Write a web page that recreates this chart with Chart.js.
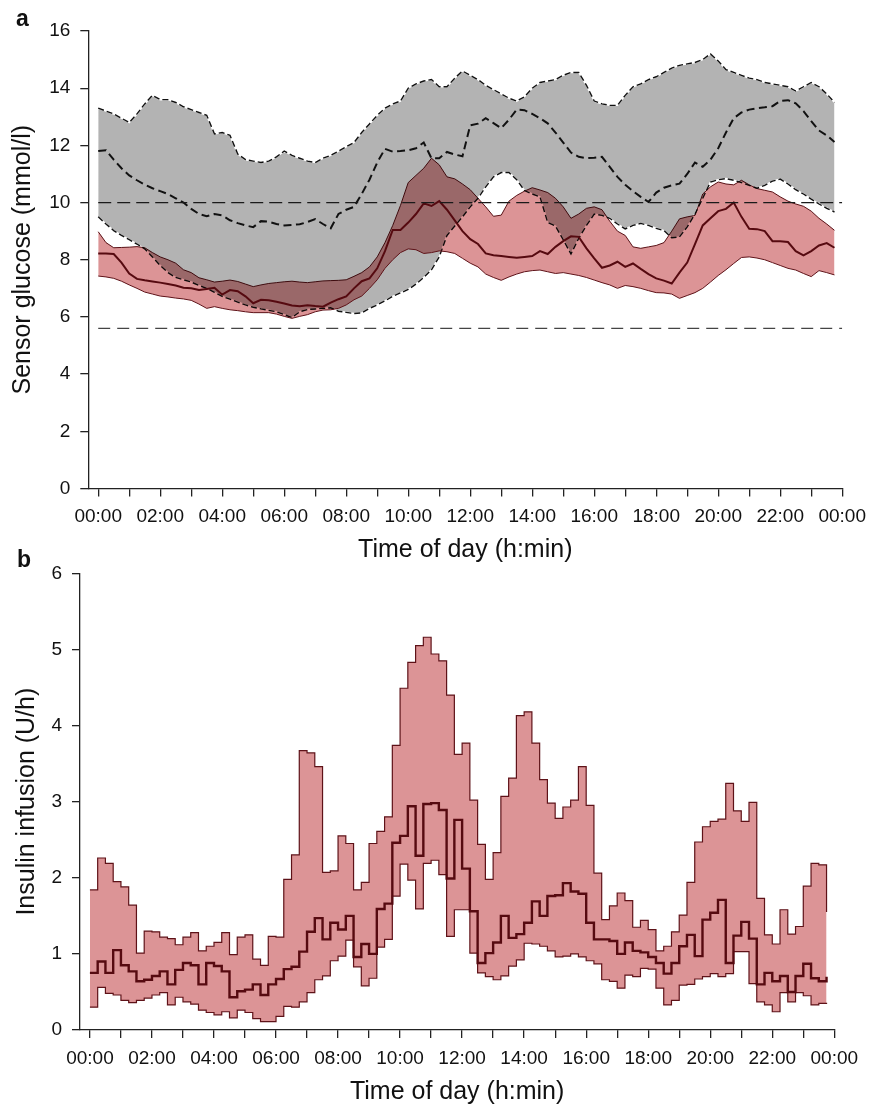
<!DOCTYPE html>
<html>
<head>
<meta charset="utf-8">
<title>Sensor glucose and insulin infusion</title>
<script src="https://cdn.jsdelivr.net/npm/chart.js@4.4.1/dist/chart.umd.min.js"></script>
<style>
  html, body { margin: 0; padding: 0; background: #fff; }
  #page { position: relative; width: 875px; height: 1107px; overflow: hidden; font-family: "Liberation Sans", Arial, sans-serif; }
  .wrap { position: absolute; left: 0; width: 875px; }
  #wrap-a { top: 0; height: 565px; }
  #wrap-b { top: 545px; height: 562px; }
  .panel-label { position: absolute; font-weight: bold; font-size: 23px; line-height: 23px; color: #111; z-index: 2; }
</style>
</head>
<body>
<div id="page">
  <div class="wrap" id="wrap-a"><canvas id="chart-a" width="875" height="565" style="width:875px;height:565px"></canvas></div>
  <div class="wrap" id="wrap-b"><canvas id="chart-b" width="875" height="562" style="width:875px;height:562px"></canvas></div>
  <div class="panel-label" style="left:16px;top:7px">a</div>
  <div class="panel-label" style="left:17px;top:548px">b</div>
</div>
<script>
// time of day in hours, one point every 15 min (00:00 ... 23:45)
const times = Array.from({ length: 96 }, (_, i) => i / 4);
const tickHours = Array.from({ length: 25 }, (_, h) => h);
const hourLabels = ['00:00', '02:00', '04:00', '06:00', '08:00', '10:00', '12:00',
  '14:00', '16:00', '18:00', '20:00', '22:00', '00:00'];
const glucoseTicks = [0, 2, 4, 6, 8, 10, 12, 14, 16];
const insulinTicks = [0, 1, 2, 3, 4, 5, 6];
const refLevels = [10, 5.6];
const refSpan = [0, 24];

// panel a - grey band (dashed)
const grayUpper = [
  13.3, 13.2, 13.1, 12.95,  12.8, 13.1, 13.45, 13.75,  13.6, 13.6, 13.5, 13.35,
  13.25, 13.15, 13.05, 12.4,  12.45, 12.35, 11.7, 11.5,  11.45, 11.4, 11.45, 11.6,
  11.8, 11.65, 11.55, 11.45,  11.4, 11.55, 11.65, 11.8,  11.95, 12.1, 12.45, 12.75,
  13.05, 13.3, 13.45, 13.55,  14.0, 14.15, 14.25, 14.3,  14.05, 14.05, 14.35, 14.6,
  14.45, 14.3, 14.1, 13.95,  13.8, 13.65, 13.55, 13.7,  14.0, 14.2, 14.25, 14.3,
  14.45, 14.55, 14.55, 14.1,  13.55, 13.45, 13.4, 13.4,  13.75, 14.05, 14.15, 14.3,
  14.4, 14.55, 14.7, 14.8,  14.85, 14.9, 15.0, 15.2,  14.95, 14.65, 14.55, 14.45,
  14.35, 14.3, 14.2, 14.15,  14.1, 14.05, 13.9, 14.05,  14.2, 14.05, 13.8, 13.5
];
const grayMedian = [
  11.8, 11.83, 11.5, 11.2,  10.95, 10.78, 10.63, 10.5,  10.4, 10.3, 10.15, 10.0,
  9.78, 9.6, 9.52, 9.6,  9.55, 9.38, 9.28, 9.2,  9.14, 9.35, 9.33, 9.25,
  9.2, 9.22, 9.24, 9.32,  9.42, 9.25, 9.1, 9.6,  9.75, 9.85, 10.3, 10.8,
  11.4, 11.88, 11.78, 11.8,  11.83, 11.9, 12.1, 11.55,  11.55, 11.77, 11.68, 11.62,
  12.7, 12.76, 12.95, 12.78,  12.6, 12.9, 13.25, 13.23,  13.1, 12.95, 12.77, 12.45,
  12.1, 11.75, 11.6, 11.55,  11.57, 11.6, 11.25, 10.9,  10.62, 10.4, 10.2, 10.02,
  10.35, 10.52, 10.6, 10.66,  11.0, 11.4, 11.25, 11.5,  11.9, 12.45, 12.95, 13.15,
  13.25, 13.3, 13.33, 13.37,  13.55, 13.58, 13.47, 13.2,  12.85, 12.52, 12.35, 12.12
];
const grayLower = [
  9.5, 9.25, 9.02, 8.85,  8.7, 8.55, 8.38, 8.1,  7.8, 7.55, 7.38, 7.3,
  7.22, 7.1, 7.0, 6.86,  6.72, 6.62, 6.52, 6.42,  6.34, 6.28, 6.23, 6.18,
  6.08, 5.98, 6.18, 6.26,  6.28, 6.3, 6.32, 6.2,  6.16, 6.12, 6.14, 6.3,
  6.42, 6.56, 6.72, 6.84,  6.96, 7.15, 7.38, 7.65,  8.1, 8.85, 9.18, 9.5,
  9.85, 10.15, 10.55, 10.9,  11.05, 11.05, 10.8, 10.42,  10.3, 10.2, 9.3, 9.18,
  8.7, 8.2, 8.75, 9.2,  9.6, 9.55, 9.45, 9.25,  9.08, 9.2, 9.27, 9.2,
  9.1, 9.02, 8.77, 8.8,  9.15, 9.6, 10.15, 10.72,  10.8, 10.84, 10.78, 10.7,
  10.6, 10.5, 10.6, 10.75,  10.82, 10.65, 10.45, 10.3,  10.12, 9.95, 9.8, 9.67
];

// panel a - red band
const redUpper = [
  8.98, 8.6, 8.42, 8.43,  8.44, 8.46, 8.42, 8.25,  8.1, 8.0, 7.88, 7.65,
  7.55, 7.37, 7.3, 7.22,  7.25, 7.29, 7.24, 7.15,  7.06, 7.12, 7.17, 7.2,
  7.23, 7.25, 7.22, 7.2,  7.23, 7.26, 7.27, 7.28,  7.3, 7.42, 7.55, 7.75,
  8.1, 8.6, 9.2, 9.9,  10.7, 10.95, 11.2, 11.55,  11.32, 10.9, 10.83, 10.65,
  10.45, 10.15, 9.85, 9.52,  9.56, 10.05, 10.25, 10.4,  10.52, 10.44, 10.35, 10.15,
  9.85, 9.45, 9.6, 9.8,  9.85, 9.75, 9.35, 9.0,  8.85, 8.45, 8.4, 8.45,
  8.5, 8.6, 9.0, 9.43,  9.5, 9.55, 10.3, 10.55,  10.72, 10.65, 10.62, 10.78,
  10.62, 10.49, 10.43, 10.37,  10.2, 10.05, 9.95, 9.87,  9.7, 9.45, 9.25, 9.03
];
const redMedian = [
  8.22, 8.22, 8.2, 7.9,  7.52, 7.33, 7.28, 7.24,  7.2, 7.15, 7.1, 7.02,
  7.0, 6.94, 6.98, 7.02,  6.78, 6.94, 6.9, 6.72,  6.48, 6.6, 6.58, 6.53,
  6.47, 6.4, 6.37, 6.41,  6.38, 6.36, 6.5, 6.62,  6.72, 7.0, 7.25, 7.35,
  7.7, 8.3, 9.04, 9.04,  9.3, 9.6, 9.97, 9.88,  10.05, 9.75, 9.38, 9.0,
  8.72, 8.55, 8.22, 8.16,  8.13, 8.1, 8.07, 8.1,  8.13, 8.3, 8.2, 8.45,
  8.65, 8.82, 8.8, 8.4,  8.05, 7.72, 7.8, 7.93,  7.75, 7.87, 7.68, 7.5,
  7.35, 7.27, 7.17, 7.55,  7.9, 8.55, 9.2, 9.45,  9.7, 9.78, 10.0, 9.5,
  9.08, 9.07, 9.0, 8.65,  8.65, 8.62, 8.3, 8.15,  8.3, 8.5, 8.58, 8.42
];
const redLower = [
  7.43, 7.4, 7.35, 7.25,  7.12, 7.0, 6.87, 6.8,  6.73, 6.7, 6.66, 6.63,
  6.58, 6.45, 6.3, 6.36,  6.3, 6.25, 6.22, 6.18,  6.15, 6.15, 6.15, 6.1,
  6.02, 5.95, 6.02, 6.08,  6.18, 6.24, 6.25, 6.3,  6.42, 6.6, 6.73, 7.0,
  7.3, 7.7, 8.0, 8.25,  8.38, 8.35, 8.22, 8.25,  8.31, 8.28, 8.22, 8.05,
  7.88, 7.75, 7.5, 7.38,  7.28, 7.4, 7.5, 7.58,  7.62, 7.64, 7.58, 7.52,
  7.55, 7.5, 7.45, 7.38,  7.29, 7.2, 7.12, 7.0,  7.1, 7.06, 7.0, 6.92,
  6.85, 6.84, 6.8, 6.65,  6.75, 6.85, 7.0, 7.22,  7.45, 7.65, 7.87, 8.08,
  8.1, 8.06, 8.0, 7.9,  7.8, 7.7, 7.64, 7.52,  7.41, 7.62, 7.55, 7.47
];

// panel b - insulin infusion, 15 min steps
const insulinUpper = [
  1.84, 2.26, 2.19, 1.95,  1.88, 1.64, 1.01, 1.30,  1.29, 1.22, 1.20, 1.12,
  1.22, 1.28, 1.04, 1.10,  1.15, 1.28, 0.99, 1.22,  1.25, 0.93, 0.85, 1.23,
  1.22, 1.98, 2.30, 3.67,  3.64, 3.46, 2.07, 2.09,  2.55, 2.45, 1.84, 1.94,
  2.45, 2.61, 2.80, 3.74,  4.49, 4.83, 5.05, 5.16,  4.94, 4.85, 4.40, 3.62,
  3.77, 3.02, 2.44, 1.98,  2.33, 3.07, 3.31, 4.13,  4.18, 3.77, 3.29, 2.98,
  2.78, 2.93, 3.02, 3.46,  2.95, 2.06, 1.45, 1.63,  1.80, 1.70, 1.35, 1.44,
  1.32, 1.04, 1.10, 1.29,  1.51, 1.94, 2.47, 2.67,  2.74, 2.77, 3.24, 2.88,
  2.74, 2.99, 1.73, 1.25,  1.13, 1.58, 1.26, 1.36,  1.89, 2.19, 2.17, 1.55
];
const insulinMedian = [
  0.75, 0.90, 0.75, 1.05,  0.85, 0.77, 0.64, 0.66,  0.71, 0.77, 0.60, 0.79,
  0.88, 0.85, 0.60, 0.88,  0.84, 0.77, 0.43, 0.51,  0.53, 0.60, 0.46, 0.60,
  0.67, 0.80, 0.83, 1.03,  1.29, 1.47, 1.19, 1.41,  1.32, 1.50, 0.96, 1.13,
  1.00, 1.59, 1.66, 2.46,  2.55, 2.94, 2.29, 2.97,  2.98, 2.89, 1.99, 2.76,
  2.12, 1.56, 0.88, 1.01,  1.15, 1.50, 1.21, 1.26,  1.41, 1.69, 1.50, 1.76,
  1.77, 1.93, 1.82, 1.79,  1.41, 1.19, 1.19, 1.17,  1.00, 1.15, 1.04, 1.02,
  0.96, 0.88, 0.74, 0.88,  1.10, 1.25, 0.97, 1.45,  1.54, 1.71, 0.88, 1.24,
  1.42, 1.20, 0.60, 0.75,  0.64, 0.71, 0.50, 0.71,  0.87, 0.68, 0.64, 0.70
];
const insulinLower = [
  0.30, 0.56, 0.48, 0.46,  0.39, 0.36, 0.39, 0.42,  0.46, 0.49, 0.33, 0.43,
  0.37, 0.34, 0.26, 0.23,  0.20, 0.24, 0.16, 0.26,  0.23, 0.15, 0.11, 0.11,
  0.18, 0.31, 0.30, 0.37,  0.49, 0.66, 0.71, 0.91,  0.97, 1.18, 0.83, 0.58,
  0.68, 1.09, 1.19, 1.76,  2.18, 1.97, 1.59, 2.19,  2.23, 2.04, 1.23, 1.58,
  1.58, 1.01, 0.75, 0.70,  0.66, 0.71, 0.84, 0.92,  1.14, 1.13, 1.10, 1.04,
  0.96, 0.97, 1.00, 0.96,  0.91, 0.87, 0.66, 0.64,  0.55, 0.72, 0.70, 0.81,
  0.80, 0.55, 0.33, 0.39,  0.59, 0.60, 0.67, 0.70,  0.74, 0.70, 0.74, 1.03,
  1.03, 0.61, 0.37, 0.33,  0.24, 0.49, 0.37, 0.49,  0.45, 0.33, 0.35, 0.34
];

const FONT = '"Liberation Sans", Arial, sans-serif';
const INK = '#111';
const AXIS = '#222';
const GREY_FILL = '#b3b3b3';
const RED_FILL = '#dc9496';
const RED_LINE = '#5e1218';
const RED_DARK = '#560a10';

Chart.defaults.font.family = FONT;
Chart.defaults.color = INK;

const pts = vals => times.map((t, i) => ({ x: t, y: vals[i] }));

// the red band darkens the grey one where they overlap (multiply),
// switched on after the grey median and off again after the red band
const multiplyRedBand = {
  id: 'multiplyRedBand',
  afterDatasetDraw(chart, args) {
    const label = chart.data.datasets[args.index].label;
    if (label === 'grey median') chart.ctx.globalCompositeOperation = 'multiply';
    if (label === 'red upper') chart.ctx.globalCompositeOperation = 'source-over';
  },
  afterDatasetsDraw(chart) {
    chart.ctx.globalCompositeOperation = 'source-over';
  }
};

function timeAxis() {
  return {
    type: 'linear',
    min: -0.32,
    max: 24,
    afterBuildTicks: s => { s.ticks = tickHours.map(v => ({ value: v })); },
    afterFit: s => { s.height = 74.5; },
    ticks: {
      autoSkip: false, maxRotation: 0, padding: 9,
      font: { size: 19 }, color: INK,
      callback: v => (v % 2 === 0 ? hourLabels[v / 2] : '')
    },
    grid: { display: true, drawOnChartArea: false, drawTicks: true, tickLength: 8, color: AXIS, lineWidth: 1.3 },
    border: { display: true, color: AXIS, width: 1.3 },
    title: { display: true, text: 'Time of day (h:min)', color: INK, font: { size: 25, lineHeight: 1 }, padding: 0 }
  };
}

function valueAxis(max, tickList, width, text, titlePad) {
  return {
    min: 0,
    max: max,
    afterBuildTicks: s => { s.ticks = tickList.map(v => ({ value: v })); },
    afterFit: s => { s.width = width; },
    ticks: { padding: 10, font: { size: 19 }, color: INK },
    grid: { display: true, drawOnChartArea: false, drawTicks: true, tickLength: 8, color: AXIS, lineWidth: 1.3 },
    border: { display: true, color: AXIS, width: 1.3 },
    title: { display: true, text: text, color: INK, font: { size: 25, lineHeight: 1 }, padding: { top: titlePad, bottom: 0 } }
  };
}

const baseOptions = {
  responsive: false,
  animation: false,
  devicePixelRatio: 1,
  elements: { point: { radius: 0 }, line: { tension: 0 } },
  plugins: { legend: { display: false }, tooltip: { enabled: false } }
};

// panel a
const refDatasets = refLevels.map((lvl, k) => ({
  label: 'ref ' + lvl,
  data: refSpan.map(x => ({ x: x, y: lvl })),
  borderColor: k === 0 ? '#1a1a1a' : '#444',
  borderWidth: 1.3,
  borderDash: k === 0 ? [13, 6] : [12, 7],
  fill: false,
  order: 0
}));

new Chart(document.getElementById('chart-a'), {
  type: 'line',
  data: {
    datasets: [
      // white under the dashed grey edges, so the dash gaps show white
      { label: 'grey lower base', data: pts(grayLower), borderColor: '#fff', borderWidth: 1.5, fill: false, order: 8 },
      { label: 'grey upper base', data: pts(grayUpper), borderColor: '#fff', borderWidth: 1.5,
        backgroundColor: GREY_FILL, fill: 0, order: 9 },
      { label: 'grey lower', data: pts(grayLower), borderColor: INK, borderWidth: 1.4, borderDash: [6, 3], fill: false, order: 7 },
      { label: 'grey upper', data: pts(grayUpper), borderColor: INK, borderWidth: 1.4, borderDash: [6, 3], fill: false, order: 6 },
      { label: 'grey median', data: pts(grayMedian), borderColor: INK, borderWidth: 2, borderDash: [8, 4.5], fill: false, order: 5 },
      { label: 'red lower', data: pts(redLower), borderColor: RED_LINE, borderWidth: 1, fill: false, order: 2 },
      { label: 'red upper', data: pts(redUpper), borderColor: RED_LINE, borderWidth: 1,
        backgroundColor: RED_FILL, fill: 5, order: 4 },
      { label: 'red median', data: pts(redMedian), borderColor: RED_DARK, borderWidth: 2, fill: false, order: 1 },
      ...refDatasets
    ]
  },
  options: Object.assign({}, baseOptions, {
    layout: { padding: { left: 0, top: 31, right: 32.3, bottom: 2 } },
    scales: {
      x: timeAxis(),
      y: valueAxis(16, glucoseTicks, 88.3, 'Sensor glucose (mmol/l)', 11)
    }
  }),
  plugins: [multiplyRedBand]
});

// panel b
new Chart(document.getElementById('chart-b'), {
  type: 'line',
  data: {
    datasets: [
      { label: 'insulin lower', data: pts(insulinLower), stepped: true, borderColor: RED_LINE, borderWidth: 1.2, fill: false, order: 2 },
      { label: 'insulin upper', data: pts(insulinUpper), stepped: true, borderColor: RED_LINE, borderWidth: 1.2,
        backgroundColor: RED_FILL, fill: 0, order: 3 },
      { label: 'insulin median', data: pts(insulinMedian), stepped: true, borderColor: RED_DARK, borderWidth: 2.4, fill: false, order: 1 }
    ]
  },
  options: Object.assign({}, baseOptions, {
    layout: { padding: { left: 0, top: 28.3, right: 40.7, bottom: 2.5 } },
    scales: {
      x: timeAxis(),
      y: valueAxis(6, insulinTicks, 80, 'Insulin infusion (U/h)', 15)
    }
  })
});
</script>
</body>
</html>
